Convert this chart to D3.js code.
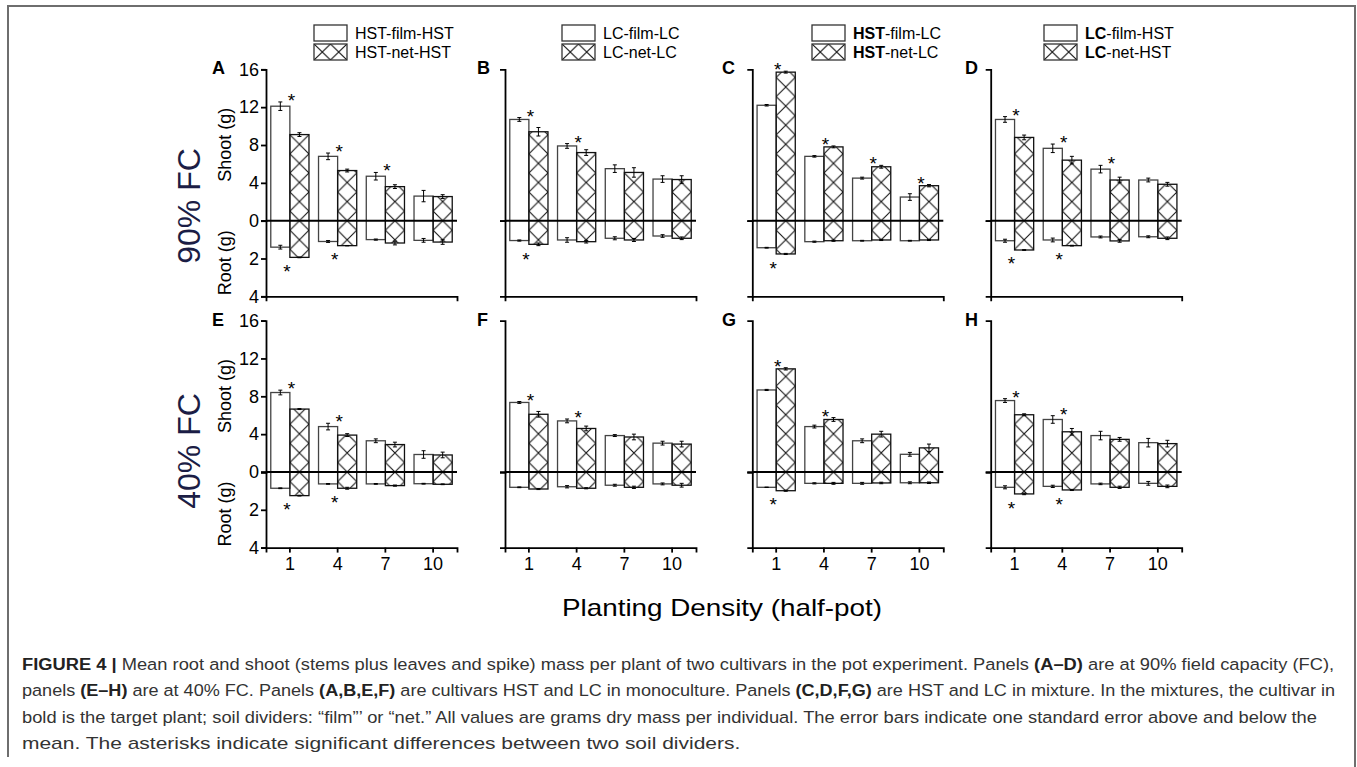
<!DOCTYPE html>
<html>
<head>
<meta charset="utf-8">
<script src="https://cdn.jsdelivr.net/npm/d3@7"></script>
<style>
  body { margin: 0; background: #fff; }
  svg { display: block; }
  text { font-family: "Liberation Sans", Arial, Helvetica, sans-serif; }
</style>
</head>
<body>
<svg id="fig" width="1357" height="767"></svg>
<script>
// Planting density categories (x axis)
const densities = ["1", "4", "7", "10"];
const panelIds = ["A", "B", "C", "D", "E", "F", "G", "H"];

// Shoot mass (g), one row per panel A..H, in density order
const shootFilm   = [[12.1, 6.8, 4.7, 2.6], [10.7, 7.9, 5.5, 4.4], [12.2, 6.8, 4.5, 2.5], [10.7, 7.65, 5.45, 4.3],
                     [8.4, 4.8, 3.3, 1.85], [7.35, 5.4, 3.85, 3.05], [8.67, 4.8, 3.3, 1.87], [7.55, 5.55, 3.85, 3.1]];
const shootFilmSE = [[0.45, 0.35, 0.4, 0.6], [0.2, 0.25, 0.4, 0.35], [0.08, 0.08, 0.1, 0.35], [0.3, 0.45, 0.4, 0.2],
                     [0.25, 0.35, 0.2, 0.4], [0.1, 0.2, 0.1, 0.2], [0.06, 0.15, 0.2, 0.2], [0.2, 0.4, 0.45, 0.45]];
const shootNet    = [[9.1, 5.3, 3.6, 2.55], [9.4, 7.2, 5.1, 4.35], [15.7, 7.8, 5.7, 3.7], [8.8, 6.4, 4.3, 3.85],
                     [6.65, 3.9, 2.9, 1.8], [6.1, 4.6, 3.7, 2.95], [10.9, 5.55, 4.0, 2.55], [6.05, 4.25, 3.45, 3.0]];
const shootNetSE  = [[0.2, 0.15, 0.2, 0.2], [0.45, 0.3, 0.5, 0.4], [0.1, 0.1, 0.15, 0.12], [0.25, 0.4, 0.3, 0.2],
                     [0.05, 0.15, 0.25, 0.3], [0.3, 0.25, 0.3, 0.3], [0.12, 0.2, 0.3, 0.4], [0.1, 0.35, 0.2, 0.35]];

// Root mass (g), drawn downward from zero
const rootFilm    = [[1.4, 1.1, 1.0, 1.04], [1.05, 1.02, 0.93, 0.81], [1.43, 1.11, 1.06, 1.06], [1.06, 1.02, 0.86, 0.85],
                     [0.86, 0.63, 0.63, 0.62], [0.81, 0.78, 0.7, 0.63], [0.81, 0.6, 0.6, 0.57], [0.81, 0.76, 0.63, 0.6]];
const rootFilmSE  = [[0.1, 0.05, 0.03, 0.1], [0.03, 0.12, 0.08, 0.07], [0.02, 0.03, 0.02, 0.02], [0.08, 0.1, 0.05, 0.05],
                     [0.02, 0.02, 0.02, 0.02], [0.02, 0.06, 0.05, 0.05], [0.01, 0.03, 0.05, 0.05], [0.08, 0.06, 0.04, 0.1]];
const rootNet     = [[1.94, 1.32, 1.18, 1.13], [1.25, 1.11, 1.02, 0.93], [1.76, 1.06, 1.02, 1.02], [1.55, 1.32, 1.07, 0.93],
                     [1.25, 0.86, 0.72, 0.65], [0.9, 0.86, 0.81, 0.7], [0.99, 0.6, 0.58, 0.57], [1.16, 0.95, 0.81, 0.76]];
const rootNetSE   = [[0.02, 0.01, 0.1, 0.12], [0.07, 0.07, 0.08, 0.07], [0.03, 0.03, 0.03, 0.03], [0.02, 0.02, 0.07, 0.07],
                     [0.02, 0.05, 0.03, 0.02], [0.03, 0.03, 0.06, 0.1], [0.03, 0.05, 0.04, 0.04], [0.04, 0.03, 0.06, 0.07]];

// Significant film/net differences (asterisks)
const starShoot = [[1, 1, 1, 0], [1, 1, 0, 0], [1, 1, 1, 1], [1, 1, 1, 0],
                   [1, 1, 0, 0], [1, 1, 0, 0], [1, 1, 0, 0], [1, 1, 0, 0]];
const starRoot  = [[1, 1, 0, 0], [1, 0, 0, 0], [1, 0, 0, 0], [1, 1, 0, 0],
                   [1, 1, 0, 0], [0, 0, 0, 0], [1, 0, 0, 0], [1, 1, 0, 0]];

// Tick labels
const shootTicks = [0, 4, 8, 12, 16];
const rootTicks = [2, 4];

// Legend labels per column: [bold part, rest]
const legendFilm = [["", "HST-film-HST"], ["", "LC-film-LC"], ["HST", "-film-LC"], ["LC", "-film-HST"]];
const legendNet  = [["", "HST-net-HST"], ["", "LC-net-LC"], ["HST", "-net-LC"], ["LC", "-net-HST"]];
const rowLabels = ["90% FC", "40% FC"];

// ---- layout ----
const axisX = [266, 505, 752.3, 990.7];
const zeroY = [220.7, 472];
const letterX = [212, 477, 722, 965];
const legendX = [314, 562, 812, 1044];
const rowLabelY = [206, 451];
const plotW = 191;
const shootH = 151.4;
const rootH = 75.6;

const svg = d3.select("#fig");
const defs = svg.append("defs");

// outer frame
svg.append("path")
    .attr("d", "M8,757 V6 H1355 V767")
    .attr("fill", "none")
    .attr("stroke", "#6e6e6e")
    .attr("stroke-width", 2);

function hatchPattern(id, x, y, w, h) {
    const p = defs.append("pattern")
        .attr("id", id)
        .attr("patternUnits", "userSpaceOnUse")
        .attr("x", x).attr("y", y)
        .attr("width", w).attr("height", h);
    p.append("path")
        .attr("d", `M0,0 L${w},${h} M${w},0 L0,${h}`)
        .attr("stroke", "#111")
        .attr("stroke-width", 1.1)
        .attr("fill", "none");
}

panelIds.forEach((id, p) => {
    const col = p % 4, row = Math.floor(p / 4);
    const x0 = axisX[col], y0 = zeroY[row];
    const g = svg.append("g");

    const x = d3.scaleBand().domain(densities).range([x0, x0 + plotW]);
    const yShoot = d3.scaleLinear().domain([0, 16]).range([y0, y0 - shootH]);
    const yRoot = d3.scaleLinear().domain([0, 4]).range([y0, y0 + rootH]);
    const bw = x.bandwidth();
    const barW = bw * 0.4;

    densities.forEach((d, i) => {
        const fx = x(d) + bw * 0.1;
        const nx = fx + barW;

        // film bar (open)
        g.append("rect")
            .attr("x", fx).attr("y", yShoot(shootFilm[p][i]))
            .attr("width", barW)
            .attr("height", yRoot(rootFilm[p][i]) - yShoot(shootFilm[p][i]))
            .attr("fill", "#fff")
            .attr("stroke", "#444")
            .attr("stroke-width", 1.3);

        // net bar (cross hatched)
        const pid = `hatch-${id}-${i}`;
        hatchPattern(pid, nx, y0 - barW / 2, barW, barW);
        g.append("rect")
            .attr("x", nx).attr("y", yShoot(shootNet[p][i]))
            .attr("width", barW)
            .attr("height", yRoot(rootNet[p][i]) - yShoot(shootNet[p][i]))
            .attr("fill", `url(#${pid})`)
            .attr("stroke", "#111")
            .attr("stroke-width", 1.3);

        // error bars
        const errs = [
            [fx + barW / 2, yShoot(shootFilm[p][i] - shootFilmSE[p][i]), yShoot(shootFilm[p][i] + shootFilmSE[p][i])],
            [nx + barW / 2, yShoot(shootNet[p][i] - shootNetSE[p][i]), yShoot(shootNet[p][i] + shootNetSE[p][i])],
            [fx + barW / 2, yRoot(rootFilm[p][i] - rootFilmSE[p][i]), yRoot(rootFilm[p][i] + rootFilmSE[p][i])],
            [nx + barW / 2, yRoot(rootNet[p][i] - rootNetSE[p][i]), yRoot(rootNet[p][i] + rootNetSE[p][i])]
        ];
        errs.forEach(([cx, ya, yb]) => {
            g.append("path")
                .attr("d", `M${cx},${ya} V${yb} M${cx - 2},${ya} H${cx + 2} M${cx - 2},${yb} H${cx + 2}`)
                .attr("stroke", "#000")
                .attr("stroke-width", 1)
                .attr("fill", "none");
        });

        // asterisks
        if (starShoot[p][i]) {
            const top = Math.max(shootFilm[p][i] + shootFilmSE[p][i], shootNet[p][i] + shootNetSE[p][i]);
            g.append("text")
                .attr("x", nx + 1.5).attr("y", yShoot(top) + 5)
                .attr("text-anchor", "middle")
                .style("font-size", "19px")
                .text("*");
        }
        if (starRoot[p][i]) {
            const bot = Math.max(rootFilm[p][i] + rootFilmSE[p][i], rootNet[p][i] + rootNetSE[p][i]);
            g.append("text")
                .attr("x", nx - 3).attr("y", yRoot(bot) + 20)
                .attr("text-anchor", "middle")
                .style("font-size", "19px")
                .text("*");
        }
    });

    // zero line
    g.append("line")
        .attr("x1", x0).attr("x2", x0 + plotW)
        .attr("y1", y0).attr("y2", y0)
        .attr("stroke", "#000")
        .attr("stroke-width", 2);

    // y axes (shoot up, root down)
    const axS = d3.axisLeft(yShoot).tickSizeOuter(0).tickSize(5).tickPadding(2).tickFormat(d3.format("d"));
    const axR = d3.axisLeft(yRoot).tickSizeOuter(0).tickSize(5).tickPadding(2).tickFormat(d3.format("d"));
    if (col === 0) {
        axS.tickValues(shootTicks);
        axR.tickValues(rootTicks);
    } else {
        axS.tickValues([]);
        axR.tickValues([]);
    }
    [axS, axR].forEach(ax => {
        const a = g.append("g").attr("transform", `translate(${x0},0)`).call(ax);
        a.selectAll("path, line").attr("stroke", "#000").attr("stroke-width", 1.8);
        a.selectAll("text").style("font-size", "18px").style("font-family", "'Liberation Sans', Arial, sans-serif").attr("fill", "#000");
    });

    // x axis
    const axX = d3.axisBottom(x).tickSizeOuter(0).tickSize(5).tickPadding(5);
    if (row === 0) axX.tickValues([]);
    const xa = g.append("g").attr("transform", `translate(0,${y0 + rootH})`).call(axX);
    xa.selectAll("path, line").attr("stroke", "#000").attr("stroke-width", 1.8);
    xa.selectAll("text").style("font-size", "18px").style("font-family", "'Liberation Sans', Arial, sans-serif").attr("fill", "#000");

    // panel letter
    g.append("text")
        .attr("x", letterX[col]).attr("y", y0 - 146.5)
        .style("font-size", "18px")
        .style("font-weight", "bold")
        .text(id);

    if (col === 0) {
        g.append("text")
            .attr("transform", `translate(231,${y0 - 76}) rotate(-90)`)
            .attr("text-anchor", "middle")
            .style("font-size", "18px")
            .text("Shoot (g)");
        g.append("text")
            .attr("transform", `translate(231,${y0 + 42}) rotate(-90)`)
            .attr("text-anchor", "middle")
            .style("font-size", "18px")
            .text("Root (g)");
        g.append("text")
            .attr("transform", `translate(200,${rowLabelY[row]}) rotate(-90)`)
            .attr("text-anchor", "middle")
            .style("font-size", "32px")
            .attr("fill", "#1b1d45")
            .text(rowLabels[row]);
    }
});

// legends
legendX.forEach((lx, c) => {
    const lg = svg.append("g");
    lg.append("rect")
        .attr("x", lx).attr("y", 25).attr("width", 33).attr("height", 16)
        .attr("fill", "#fff").attr("stroke", "#333").attr("stroke-width", 1.3);
    hatchPattern(`leg-${c}`, lx, 44, 16.5, 16);
    lg.append("rect")
        .attr("x", lx).attr("y", 44).attr("width", 33).attr("height", 16)
        .attr("fill", `url(#leg-${c})`).attr("stroke", "#333").attr("stroke-width", 1.3);
    [[legendFilm[c], 38.5], [legendNet[c], 58]].forEach(([lab, ty]) => {
        const t = lg.append("text").attr("x", lx + 41).attr("y", ty).style("font-size", "16px");
        if (lab[0]) t.append("tspan").style("font-weight", "bold").text(lab[0]);
        t.append("tspan").text(lab[1]);
    });
});

// x axis title
svg.append("text")
    .attr("x", 722).attr("y", 616)
    .attr("text-anchor", "middle")
    .attr("textLength", 320)
    .attr("lengthAdjust", "spacingAndGlyphs")
    .style("font-size", "24px")
    .text("Planting Density (half-pot)");

// caption
const captionLines = [
    [["b", "FIGURE 4 | "], ["", "Mean root and shoot (stems plus leaves and spike) mass per plant of two cultivars in the pot experiment. Panels "], ["b", "(A–D)"], ["", " are at 90% field capacity (FC),"]],
    [["", "panels "], ["b", "(E–H)"], ["", " are at 40% FC. Panels "], ["b", "(A,B,E,F)"], ["", " are cultivars HST and LC in monoculture. Panels "], ["b", "(C,D,F,G)"], ["", " are HST and LC in mixture. In the mixtures, the cultivar in"]],
    [["", "bold is the target plant; soil dividers: “film”’ or “net.” All values are grams dry mass per individual. The error bars indicate one standard error above and below the"]],
    [["", "mean. The asterisks indicate significant differences between two soil dividers."]]
];
// line widths as printed (the caption face is wider than Liberation Sans),
// so each line is stretched horizontally to its printed width
const captionW = [1313, 1314, 1296, 719];
captionLines.forEach((parts, i) => {
    const t = svg.append("text")
        .attr("x", 0).attr("y", 0)
        .style("font-size", "17px")
        .attr("fill", "#333");
    parts.forEach(([w, s]) => {
        const ts = t.append("tspan").text(s);
        if (w === "b") ts.style("font-weight", "bold").attr("fill", "#222");
    });
    const k = captionW[i] / t.node().getComputedTextLength();
    t.attr("transform", `translate(22,${670 + i * 26.4}) scale(${k},1)`);
});
</script>
</body>
</html>
